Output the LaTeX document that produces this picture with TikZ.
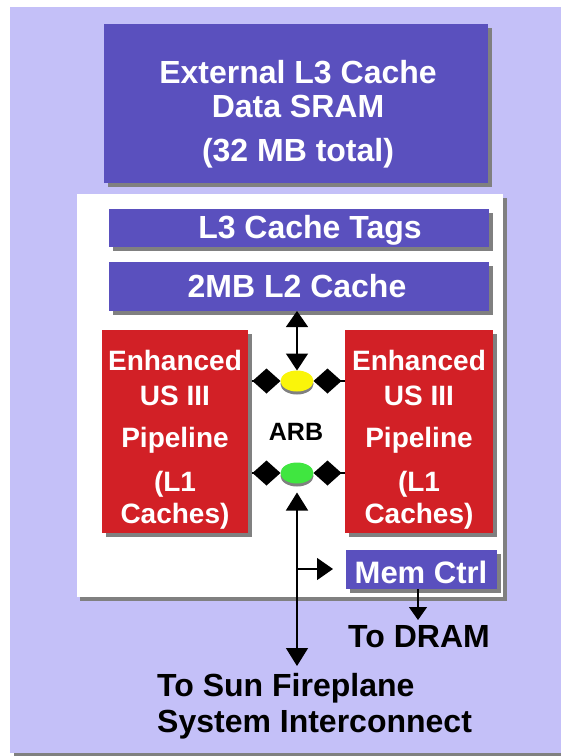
\documentclass[tikz,border=0pt]{standalone}
\usepackage{fontspec}
\setmainfont{Liberation Sans}
\usetikzlibrary{arrows.meta,shapes.geometric,shadows}
\definecolor{lav}{RGB}{196,192,248}
\definecolor{purp}{RGB}{90,80,190}
\definecolor{redc}{RGB}{210,32,38}
\definecolor{shgray}{RGB}{128,128,128}
\definecolor{yel}{RGB}{250,245,10}
\definecolor{grn}{RGB}{64,230,64}
\tikzset{diatip/.tip={Diamond[length=28pt,width=25pt]}}
\begin{document}
\begin{tikzpicture}[x=1pt,y=-1pt,
  box/.style={rectangle, inner sep=0pt, outer sep=0pt, anchor=north west,
    general shadow={fill=shgray, shadow xshift=4pt, shadow yshift=-4pt}},
  pbox/.style={box, fill=purp},
  rbox/.style={box, fill=redc},
  arb/.style={ellipse, inner sep=0pt, outer sep=0pt, minimum width=33pt, minimum height=21pt,
    general shadow={fill=shgray, shadow xshift=0pt, shadow yshift=-3pt}},
  wtxt/.style={anchor=base, inner sep=0pt, text=white, font=\bfseries\fontsize{32}{36}\selectfont},
  ctxt/.style={wtxt, font=\bfseries\fontsize{28}{32}\selectfont},
  btxt/.style={anchor=base, inner sep=0pt, text=black, font=\bfseries\fontsize{32}{36}\selectfont},
  conn/.style={draw=black, line width=1.4pt}
]
\useasboundingbox (0,0) rectangle (561,756);
\fill[white] (0,0) rectangle (561,756);
\node[box, fill=lav, minimum width=560pt, minimum height=746pt,
  general shadow={fill=shgray, shadow xshift=5pt, shadow yshift=-3pt}] (bg) at (10,7) {};
% top box
\node[pbox, minimum width=384pt, minimum height=159pt] (l3data) at (104,24) {};
\node[wtxt] (t1) at (298,83) {External L3 Cache};
\node[wtxt] (t2) at (298,117) {Data SRAM};
\node[wtxt] (t3) at (298,161) {(32 MB total)};
% chip
\node[box, fill=white, minimum width=426pt, minimum height=403pt,
  general shadow={fill=shgray, shadow xshift=3pt, shadow yshift=-4pt}] (chip) at (77,194) {};
\node[pbox, minimum width=380pt, minimum height=38pt] (tags) at (109,209) {};
\node[wtxt] (tagst) at (310,238) {L3 Cache Tags};
\node[pbox, minimum width=380pt, minimum height=49pt] (l2) at (109,262) {};
\node[wtxt] (l2t) at (297,297) {2MB L2 Cache};
\node[rbox, minimum width=146pt, minimum height=203pt] (lcore) at (102,330) {};
\node[rbox, minimum width=148pt, minimum height=203pt] (rcore) at (345,330) {};
\foreach \cx/\nm in {175/l, 419/r}{
  \node[ctxt] (\nm a) at (\cx,370) {Enhanced};
  \node[ctxt] (\nm b) at (\cx,405) {US III};
  \node[ctxt] (\nm c) at (\cx,447) {Pipeline};
  \node[ctxt] (\nm d) at (\cx,491) {(L1};
  \node[ctxt] (\nm e) at (\cx,523) {Caches)};
}
\node[arb, fill=yel] (yarb) at (297,381) {};
\node[arb, fill=grn] (garb) at (297,473) {};
\node[anchor=base, inner sep=0pt, font=\bfseries\fontsize{25}{30}\selectfont] (arbt) at (296,440) {ARB};
\node[pbox, minimum width=151pt, minimum height=39pt] (mem) at (346,550) {};
\node[wtxt, font=\bfseries\fontsize{31}{36}\selectfont] (memt) at (421,583) {Mem Ctrl};
% connectors
\draw[conn, {Triangle[length=16pt,width=22pt]}-{Triangle[length=17pt,width=22pt]}] (l2.south -| yarb) -- (yarb.north);
\draw[conn, -diatip, shorten <=4pt] (yarb.west -| lcore.east) -- (yarb.west);
\draw[conn, -diatip] (yarb.east -| rcore.west) -- (yarb.east);
\draw[conn, -diatip, shorten <=4pt] (garb.west -| lcore.east) -- (garb.west);
\draw[conn, -diatip] (garb.east -| rcore.west) -- (garb.east);
\coordinate (fire) at (297,666);
\draw[conn, {Triangle[length=18pt,width=22pt]}-{Triangle[length=18pt,width=22pt]}, shorten <=9pt] (garb.south) -- (fire);
\coordinate (br) at (297,569);
\draw[conn, -{Triangle[length=16pt,width=22pt]}, shorten >=13pt] (br) -- (br -| mem.west);
\coordinate (dram) at (418,620);
\draw[conn, -{Triangle[length=13pt,width=18pt]}] (mem.south -| dram) -- (dram);
% labels
\node[btxt] (dramt) at (419,647) {To DRAM};
\node[btxt, anchor=base west] (fp1) at (157,696) {To Sun Fireplane};
\node[btxt, anchor=base west] (fp2) at (157,732) {System Interconnect};
\end{tikzpicture}
\end{document}
